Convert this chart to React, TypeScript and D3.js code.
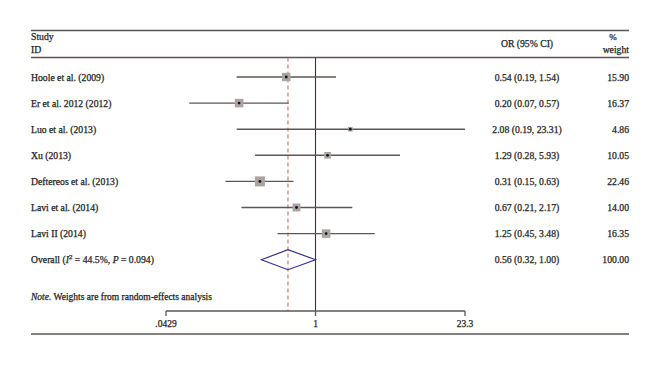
import { scaleLog } from 'd3';

const studies = ['Hoole et al. (2009)', 'Er et al. 2012 (2012)', 'Luo et al. (2013)', 'Xu (2013)', 'Deftereos et al. (2013)', 'Lavi et al. (2014)', 'Lavi II (2014)'];
const or = [0.54, 0.20, 2.08, 1.29, 0.31, 0.67, 1.25];
const lower = [0.19, 0.07, 0.19, 0.28, 0.15, 0.21, 0.45];
const upper = [1.54, 0.57, 23.31, 5.93, 0.63, 2.17, 3.48];
const weights = [15.90, 16.37, 4.86, 10.05, 22.46, 14.00, 16.35];
const overall = { or: 0.56, lo: 0.32, hi: 1.00, w: 100.0 };
const axisTicks = [0.0429, 1, 23.3];
const tickLabels = ['.0429', '1', '23.3'];

const W = 660, H = 365;
const font = '"Liberation Serif", "DejaVu Serif", serif';
const lineCol = '#5e5654';
const textCol = '#231c1c';

export default function App() {
  const x = scaleLog().domain([0.0429, 23.3]).range([166, 465]);
  const rowY = (i: number) => 77 + i * 26.1;
  const overallY = rowY(studies.length);
  const maxW = Math.max(...weights);
  const boxSide = (w: number) => 10 * Math.sqrt(w / maxW);
  const fmt = (v: number) => v.toFixed(2);
  const axisY = 311;

  return (
    <svg width={W} height={H} style={{ position: 'absolute', left: 0, top: 0, background: '#fff' }}
      fontFamily={font} fontSize={9.7} fill={textCol} stroke="none">
      <g stroke={textCol} strokeWidth={0.25}>
        <text x={31} y={40}>Study</text>
        <text x={31} y={53}>ID</text>
        <text x={527} y={46.5} textAnchor="middle">OR (95% CI)</text>
        <text x={613} y={40} textAnchor="middle" fontSize={9}>%</text>
        <text x={629} y={53} textAnchor="end">weight</text>
      </g>
      <line x1={31} x2={629} y1={30.5} y2={30.5} stroke={lineCol} strokeWidth={1.6} />
      <line x1={31} x2={629} y1={57.5} y2={57.5} stroke={lineCol} strokeWidth={1.6} />
      <line x1={31} x2={629} y1={334} y2={334} stroke={lineCol} strokeWidth={1.6} />

      {/* reference lines */}
      <line x1={x(1)} x2={x(1)} y1={57.5} y2={axisY} stroke="#3a3232" strokeWidth={1.1} />
      <line x1={x(overall.or)} x2={x(overall.or)} y1={57.5} y2={axisY} stroke="#d9544f" strokeWidth={1} strokeDasharray="4,3" />

      {studies.map((s, i) => {
        const y = rowY(i);
        const b = boxSide(weights[i]);
        return (
          <g key={s}>
            <line x1={x(lower[i])} x2={x(upper[i])} y1={y} y2={y} stroke={lineCol} strokeWidth={1.4} />
            <rect x={x(or[i]) - b / 2} y={y - b / 2} width={b} height={b} fill="#aaa3a1" />
            <circle cx={x(or[i])} cy={y} r={1.4} fill="#111" />
            <g stroke={textCol} strokeWidth={0.25}>
              <text x={31} y={y + 3.5}>{s}</text>
              <text x={527} y={y + 3.5} textAnchor="middle">{`${fmt(or[i])} (${fmt(lower[i])}, ${fmt(upper[i])})`}</text>
              <text x={629} y={y + 3.5} textAnchor="end">{fmt(weights[i])}</text>
            </g>
          </g>
        );
      })}

      <path
        d={`M${x(overall.lo)},${overallY} L${x(overall.or)},${overallY - 10} L${x(overall.hi)},${overallY} L${x(overall.or)},${overallY + 10} Z`}
        fill="none" stroke="#3b2f8c" strokeWidth={1.2} />
      <g stroke={textCol} strokeWidth={0.25}>
        <text x={31} y={overallY + 3.5}>
          Overall (<tspan fontStyle="italic">I</tspan><tspan dy={-4} fontSize={7}>2</tspan><tspan dy={4}> = 44.5%, </tspan><tspan fontStyle="italic">P</tspan> = 0.094)
        </text>
        <text x={527} y={overallY + 3.5} textAnchor="middle">{`${fmt(overall.or)} (${fmt(overall.lo)}, ${fmt(overall.hi)})`}</text>
        <text x={629} y={overallY + 3.5} textAnchor="end">{fmt(overall.w)}</text>
        <text x={31} y={300} fontSize={9.5}><tspan fontStyle="italic">Note.</tspan> Weights are from random-effects analysis</text>
      </g>

      {/* axis */}
      <line x1={x(axisTicks[0])} x2={x(axisTicks[axisTicks.length - 1])} y1={axisY} y2={axisY} stroke={lineCol} strokeWidth={1.3} />
      {axisTicks.map((t, i) => (
        <g key={t}>
          <line x1={x(t)} x2={x(t)} y1={axisY} y2={axisY + 5} stroke={lineCol} strokeWidth={1.3} />
          <text x={x(t)} y={axisY + 16} textAnchor="middle" fontSize={9.5} stroke={textCol} strokeWidth={0.25}>{tickLabels[i]}</text>
        </g>
      ))}
    </svg>
  );
}
